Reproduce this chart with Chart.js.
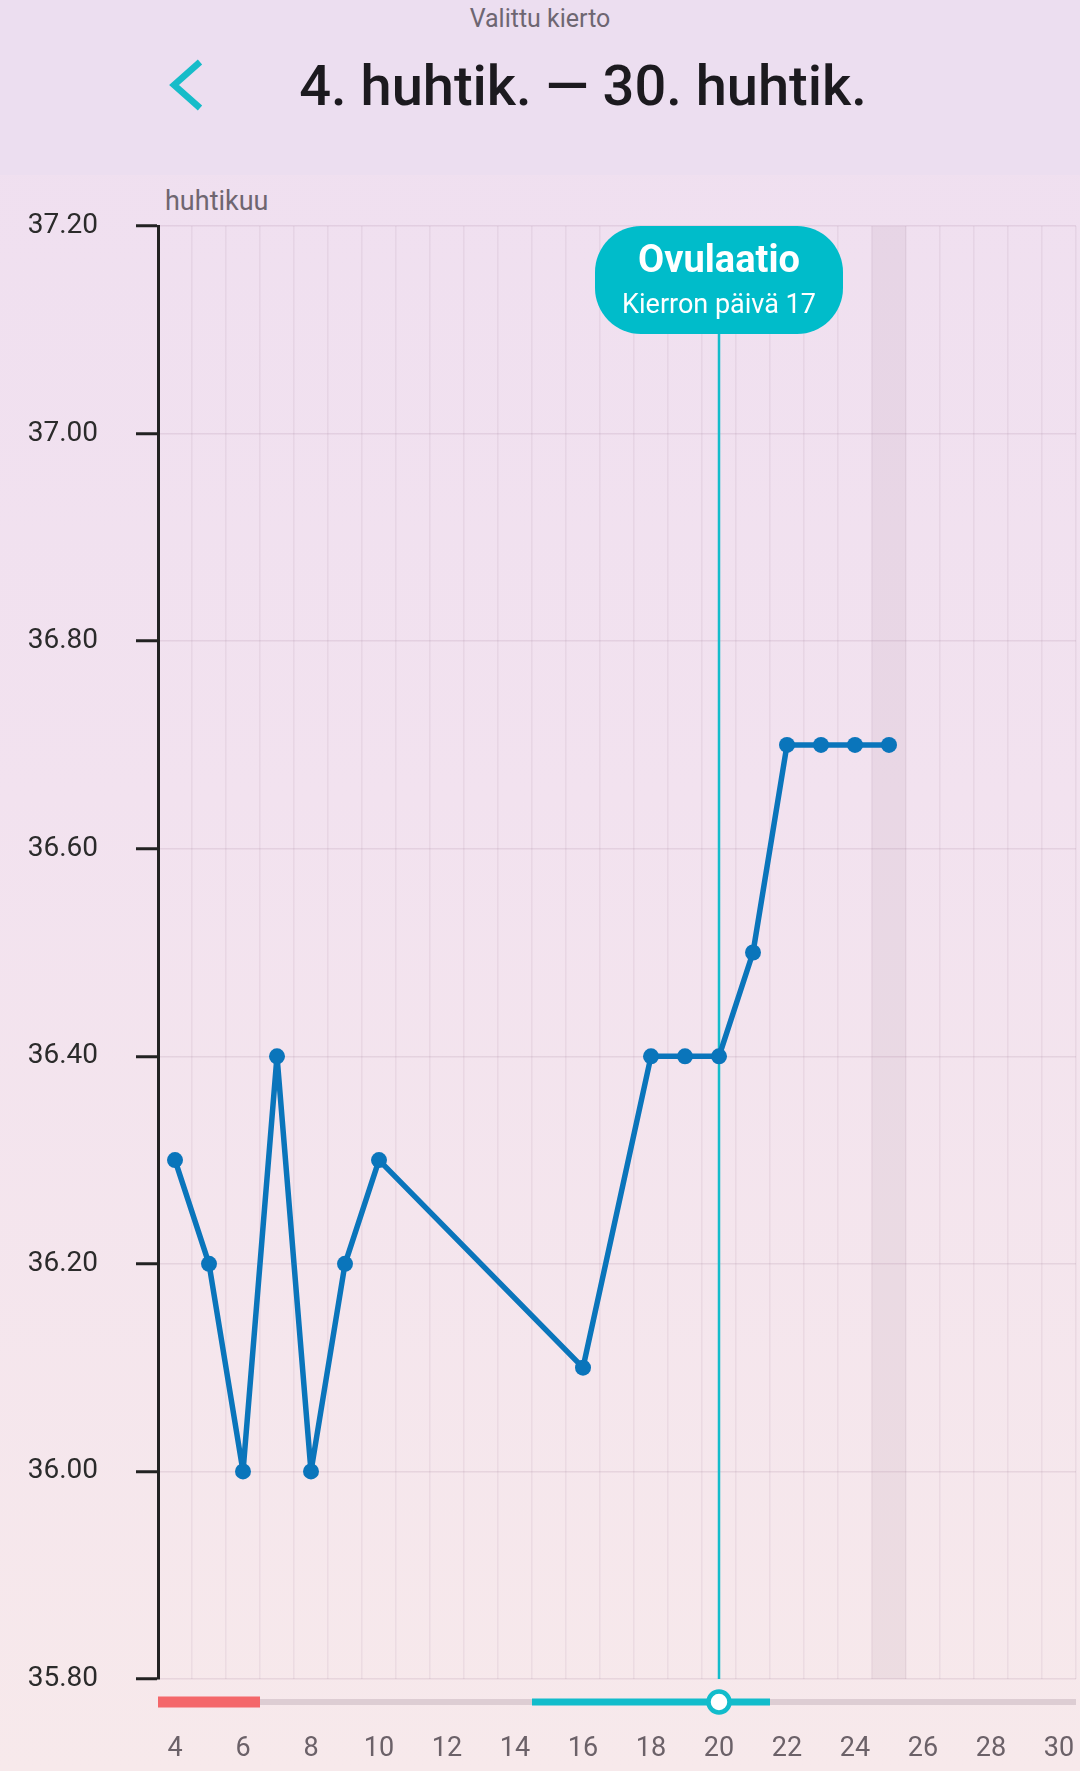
<!DOCTYPE html>
<html lang="fi">
<head>
<meta charset="utf-8">
<title>Valittu kierto</title>
<script src="https://cdn.jsdelivr.net/npm/chart.js@4.4.1/dist/chart.umd.min.js"></script>
<style>
  html, body { margin: 0; padding: 0; }
  body {
    width: 1080px; height: 1771px; overflow: hidden; position: relative;
    font-family: Roboto, "Noto Sans", sans-serif;
    background: linear-gradient(180deg, #efdff0 0%, #f2e2ef 45%, #f7e9eb 100%);
  }
  .header { position: absolute; left: 0; top: 0; width: 1080px; height: 175px; background: #ecdef0; }
  .sub { position: absolute; top: 4px; width: 100%; text-align: center; font-size: 25px; color: #6e6672; }
  .title { position: absolute; top: 53px; left: 583px; transform: translateX(-50%); white-space: nowrap;
    font-size: 56px; font-weight: 500; color: #1c1a1f; }
  .back { position: absolute; left: 165px; top: 57px; }
  .month { position: absolute; left: 165px; top: 185px; font-size: 27px; color: #6f6670; }
  .wrap { position: absolute; left: 0; top: 175px; width: 1080px; height: 1596px; }
</style>
</head>
<body>
<div class="header">
  <div class="sub">Valittu kierto</div>
  <svg class="back" width="44" height="58" viewBox="0 0 44 58">
    <polyline points="35,5 9,28 35,51" fill="none" stroke="#17bcc9" stroke-width="6.5" stroke-linejoin="miter"/>
  </svg>
  <div class="title">4. huhtik. — 30. huhtik.</div>
</div>
<div class="month">huhtikuu</div>
<div class="wrap"><canvas id="chart"></canvas></div>
<script>
// päivät ja lämpötilat
const days = [4, 5, 6, 7, 8, 9, 10, 16, 18, 19, 20, 21, 22, 23, 24, 25];
const temps = [36.3, 36.2, 36.0, 36.4, 36.0, 36.2, 36.3, 36.1, 36.4, 36.4, 36.4, 36.5, 36.7, 36.7, 36.7, 36.7];

const xTicks = [4, 6, 8, 10, 12, 14, 16, 18, 20, 22, 24, 26, 28, 30];
const yTicks = [35.8, 36.0, 36.2, 36.4, 36.6, 36.8, 37.0, 37.2];

const periodDays = [4, 6];
const fertileDays = [15, 21];
const ovulationDay = 20;
const cycleDay = 17;
const today = 25;

const xMin = 3.5, xMax = 30.5;

const teal = '#00bcca';
const blue = '#0a75bb';

function roundRect(ctx, x, y, w, h, r) {
  ctx.beginPath();
  ctx.moveTo(x + r, y);
  ctx.arcTo(x + w, y, x + w, y + h, r);
  ctx.arcTo(x + w, y + h, x, y + h, r);
  ctx.arcTo(x, y + h, x, y, r);
  ctx.arcTo(x, y, x + w, y, r);
  ctx.closePath();
}

function noPad(s) {
  s.paddingLeft = 0; s.paddingRight = 0; s.paddingTop = 0; s.paddingBottom = 0;
}

const extras = {
  id: 'extras',
  beforeDatasetsDraw(chart) {
    const { ctx, chartArea } = chart;
    const x = chart.scales.x;
    // tämä päivä
    ctx.save();
    ctx.fillStyle = 'rgba(120, 80, 110, 0.075)';
    const l = x.getPixelForValue(today - 0.5), r = x.getPixelForValue(today + 0.5);
    ctx.fillRect(l, chartArea.top, r - l, chartArea.bottom - chartArea.top);
    // ovulaatioviiva
    const ox = x.getPixelForValue(ovulationDay);
    ctx.strokeStyle = '#13bccb';
    ctx.lineWidth = 2.5;
    ctx.beginPath();
    ctx.moveTo(ox, chartArea.top + 100);
    ctx.lineTo(ox, chartArea.bottom);
    ctx.stroke();
    ctx.restore();
  },
  afterDatasetsDraw(chart) {
    const { ctx, chartArea } = chart;
    const x = chart.scales.x;
    const ox = x.getPixelForValue(ovulationDay);
    ctx.save();
    const w = 248, h = 108;
    ctx.fillStyle = teal;
    roundRect(ctx, ox - w / 2, chartArea.top, w, h, 46);
    ctx.fill();
    ctx.fillStyle = '#fff';
    ctx.textAlign = 'center';
    ctx.textBaseline = 'middle';
    ctx.font = 'bold 38px Roboto';
    ctx.fillText('Ovulaatio', ox, chartArea.top + 36);
    ctx.font = '27px Roboto';
    ctx.fillText('Kierron päivä ' + cycleDay, ox, chartArea.top + 80);

    // vaihepalkki
    const by = chartArea.bottom + 23;
    ctx.fillStyle = '#ddcdd3';
    ctx.fillRect(chartArea.left, by - 3, chartArea.right - chartArea.left, 6);
    const p1 = x.getPixelForValue(periodDays[0] - 0.5), p2 = x.getPixelForValue(periodDays[1] + 0.5);
    ctx.fillStyle = '#f4676a';
    ctx.fillRect(p1, by - 5.5, p2 - p1, 11);
    const f1 = x.getPixelForValue(fertileDays[0] - 0.5), f2 = x.getPixelForValue(fertileDays[1] + 0.5);
    ctx.fillStyle = '#12bccb';
    ctx.fillRect(f1, by - 3.5, f2 - f1, 7);
    ctx.beginPath();
    ctx.arc(ox, by, 10.5, 0, Math.PI * 2);
    ctx.fillStyle = '#fff';
    ctx.fill();
    ctx.lineWidth = 4.5;
    ctx.strokeStyle = '#12bccb';
    ctx.stroke();
    ctx.restore();
  }
};

new Chart(document.getElementById('chart'), {
  type: 'line',
  data: {
    datasets: [{
      data: days.map((d, i) => ({ x: d, y: temps[i] })),
      borderColor: blue,
      backgroundColor: blue,
      borderWidth: 5.5,
      borderJoinStyle: 'round',
      pointRadius: 8,
      pointBackgroundColor: blue,
      pointBorderWidth: 0,
      tension: 0,
      clip: false
    }]
  },
  options: {
    responsive: true,
    maintainAspectRatio: false,
    devicePixelRatio: 1,
    animation: false,
    layout: { autoPadding: false, padding: { top: 51, right: 4, left: 0, bottom: 0 } },
    plugins: { legend: { display: false }, tooltip: { enabled: false } },
    scales: {
      x: {
        type: 'linear', min: xMin, max: xMax,
        afterBuildTicks: s => { s.ticks = xTicks.map(v => ({ value: v })); },
        afterFit: s => { s.height = 92; noPad(s); },
        grid: { display: false, drawTicks: false },
        border: { display: false },
        ticks: { padding: 54, color: '#6b6168', font: { family: 'Roboto', size: 27 }, maxRotation: 0, autoSkip: false }
      },
      xGrid: {
        type: 'linear', min: xMin, max: xMax, position: 'bottom',
        afterBuildTicks: s => {
          const t = [];
          for (let d = Math.ceil(xMin); d < xMax; d++) t.push({ value: d + 0.5 });
          s.ticks = t;
        },
        afterFit: s => { s.height = 0; noPad(s); },
        ticks: { display: false },
        grid: { color: 'rgba(150, 110, 140, 0.1)', lineWidth: 1.5, drawTicks: false },
        border: { display: false }
      },
      y: {
        min: 35.8, max: 37.2,
        afterBuildTicks: s => { s.ticks = yTicks.map(v => ({ value: v })); },
        afterFit: s => { s.width = 158; noPad(s); },
        grid: { color: 'rgba(150, 110, 140, 0.15)', lineWidth: 1.5, tickLength: 22, tickColor: '#222', tickWidth: 3 },
        border: { color: '#222', width: 3 },
        ticks: { padding: 38, color: '#2b2b2b', font: { family: 'Roboto', size: 28 }, callback: v => v.toFixed(2) }
      }
    }
  },
  plugins: [extras]
});
</script>
</body>
</html>
